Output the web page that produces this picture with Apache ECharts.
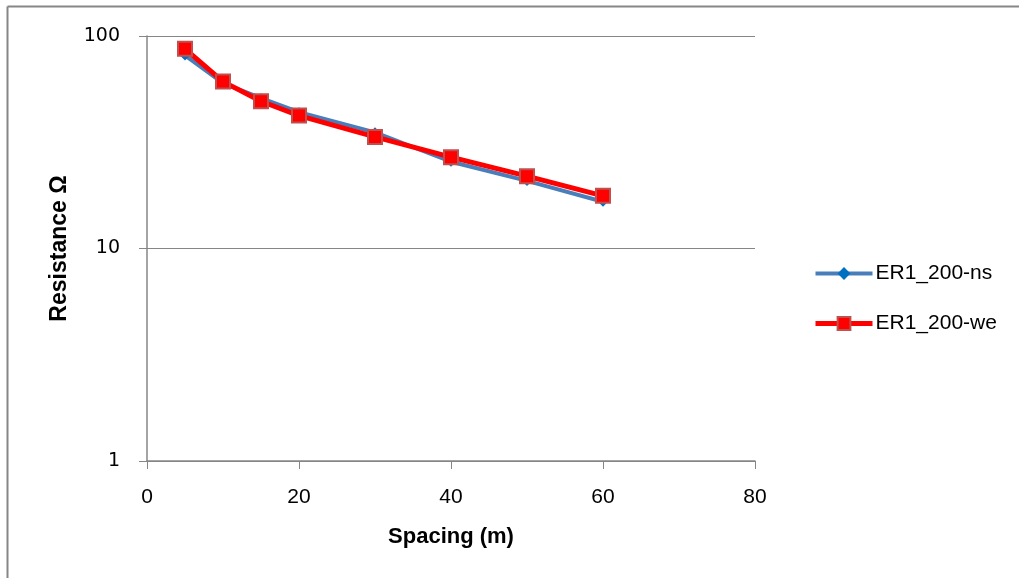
<!DOCTYPE html>
<html>
<head>
<meta charset="utf-8">
<script src="https://cdn.jsdelivr.net/npm/echarts@6/dist/echarts.min.js"></script>
<style>html,body{margin:0;padding:0;background:#fff;}#c{width:1019px;height:578px;}</style>
</head>
<body>
<div id="c"></div>
<script>
const spacing = [5, 10, 15, 20, 30, 40, 50, 60];
const nsValues = [81, 60, 51, 43.8, 35.2, 25.6, 20.8, 16.6];
const weValues = [87, 61, 49.3, 42.2, 33.5, 26.9, 21.9, 17.7];
const seriesNames = ['ER1_200-ns', 'ER1_200-we'];
const xTitle = 'Spacing (m)';
const yTitle = 'Resistance Ω';

const chart = echarts.init(document.getElementById('c'));
const font = '"Liberation Sans", Arial, sans-serif';
chart.setOption({
  animation: false,
  backgroundColor: '#fff',
  grid: { left: 147, right: 264, top: 36, bottom: 117 },
  graphic: [
    { type: 'line', shape: { x1: 7.5, y1: 6.5, x2: 1019, y2: 6.5 }, style: { stroke: '#868686', lineWidth: 2 } },
    { type: 'line', shape: { x1: 7.5, y1: 6.5, x2: 7.5, y2: 578 }, style: { stroke: '#868686', lineWidth: 2 } }
  ],
  legend: {
    orient: 'vertical',
    left: 808, top: 258,
    itemWidth: 57, itemHeight: 16, itemGap: 29,
    lineStyle: { width: 'inherit' },
    textStyle: { fontFamily: font, fontSize: 21, color: '#000', padding: [0,0,0,-2] },
    data: seriesNames
  },
  xAxis: {
    type: 'value', min: 0, max: 80, interval: 20,
    name: xTitle, nameLocation: 'middle', nameGap: 65,
    nameTextStyle: { fontFamily: font, fontSize: 22, fontWeight: 'bold', color: '#000' },
    axisLine: { lineStyle: { color: '#868686', width: 1.5 } },
    axisTick: { show: true, length: 8, lineStyle: { color: '#868686' } },
    axisLabel: { fontFamily: font, fontSize: 21, color: '#000', margin: 26 },
    splitLine: { show: false }
  },
  yAxis: {
    type: 'log', min: 1, max: 100, logBase: 10,
    name: yTitle, nameLocation: 'middle', nameGap: 76,
    nameTextStyle: { fontFamily: font, fontSize: 23, fontWeight: 'bold', color: '#000' },
    axisLine: { show: true, lineStyle: { color: '#868686', width: 1.5 } },
    axisTick: { show: true, length: 8, inside: false, lineStyle: { color: '#868686' } },
    axisLabel: { fontFamily: '"DejaVu Sans", sans-serif', fontSize: 19, color: '#000', margin: 27 },
    minorTick: { show: false },
    splitLine: { show: true, lineStyle: { color: '#868686', width: 1 } }
  },
  series: [
    {
      name: seriesNames[0], type: 'line',
      data: spacing.map((x, i) => [x, nsValues[i]]),
      symbol: 'diamond', symbolSize: 10,
      lineStyle: { color: '#4a7ebb', width: 4 },
      itemStyle: { color: '#0070c0' },
      z: 2
    },
    {
      name: seriesNames[1], type: 'line',
      data: spacing.map((x, i) => [x, weValues[i]]),
      symbol: 'rect', symbolSize: 14,
      lineStyle: { color: '#ff0000', width: 5 },
      itemStyle: { color: '#ff0000', borderColor: '#c0504d', borderWidth: 2 },
      z: 3
    }
  ]
});
</script>
</body>
</html>
